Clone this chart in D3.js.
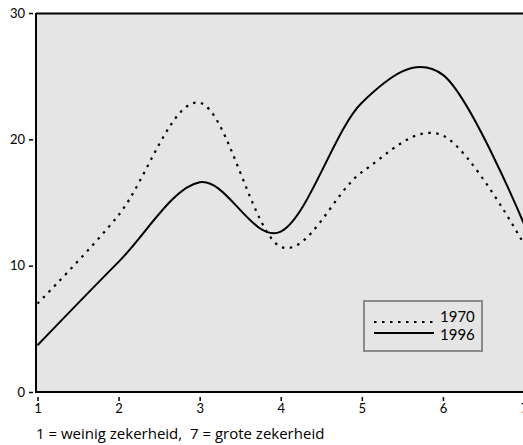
<!DOCTYPE html>
<html>
<head>
<meta charset="utf-8">
<script src="https://cdn.jsdelivr.net/npm/d3@7"></script>
<style>
  html, body { margin: 0; padding: 0; background: #fff; }
  svg { display: block; }
  text { font-family: Lato, "Open Sans", sans-serif; fill: #000; }
</style>
</head>
<body>
<svg id="chart" width="523" height="445"></svg>
<script>
const xValues = [1, 2, 3, 4, 5, 6, 7];
const values1970 = [7.0, 14.0, 22.9, 11.5, 17.4, 20.3, 11.7];
const values1996 = [3.7, 10.3, 16.6, 12.7, 22.9, 25.1, 13.3];
const seriesNames = ["1970", "1996"];
const yTicks = [0, 10, 20, 30];
const xTicks = [1, 2, 3, 4, 5, 6, 7];
const xLabel = "1 = weinig zekerheid,  7 = grote zekerheid";

const svg = d3.select("#chart");
const plot = { left: 36, top: 13, right: 530, bottom: 392 };

const x = d3.scaleLinear().domain([1, 7]).range([37.5, 524]);
const y = d3.scaleLinear().domain([0, 30]).range([plot.bottom, plot.top]);

svg.append("defs").append("clipPath").attr("id", "clip")
  .append("rect")
  .attr("x", plot.left).attr("y", plot.top)
  .attr("width", plot.right - plot.left).attr("height", plot.bottom - plot.top);

// background
svg.append("rect")
  .attr("x", plot.left).attr("y", plot.top)
  .attr("width", plot.right - plot.left).attr("height", plot.bottom - plot.top)
  .attr("fill", "#e5e5e5");

// lines
const line = d3.line().x((d, i) => x(xValues[i])).y(d => y(d)).curve(d3.curveCardinal.tension(0));
const g = svg.append("g").attr("clip-path", "url(#clip)");
g.append("path").datum(values1970)
  .attr("d", line).attr("fill", "none").attr("stroke", "#000")
  .attr("stroke-width", 2.2).attr("stroke-dasharray", "2.5,5.5");
g.append("path").datum(values1996)
  .attr("d", line).attr("fill", "none").attr("stroke", "#000")
  .attr("stroke-width", 2);

// frame
svg.append("line").attr("x1", plot.left).attr("x2", plot.right)
  .attr("y1", plot.top + 0.5).attr("y2", plot.top + 0.5)
  .attr("stroke", "#000").attr("stroke-width", 1.8);
svg.append("line").attr("x1", plot.left).attr("x2", plot.left)
  .attr("y1", plot.top).attr("y2", plot.bottom + 1)
  .attr("stroke", "#000").attr("stroke-width", 2);
svg.append("line").attr("x1", plot.left - 1).attr("x2", plot.right)
  .attr("y1", plot.bottom).attr("y2", plot.bottom)
  .attr("stroke", "#000").attr("stroke-width", 2.2);

// y axis
const yAxis = svg.append("g").attr("transform", `translate(33,0)`)
  .call(d3.axisLeft(y).tickValues(yTicks).tickSize(4).tickPadding(4));
yAxis.select(".domain").remove();
yAxis.selectAll(".tick line").attr("stroke", "#000").attr("stroke-width", 1.5);
yAxis.selectAll(".tick text").style("font-size", "13px").attr("fill", "#000");

// x axis
const xAxis = svg.append("g").attr("transform", `translate(0,${plot.bottom + 5})`)
  .call(d3.axisBottom(x).tickValues(xTicks).tickFormat(d3.format("d")).tickSize(4).tickPadding(3));
xAxis.select(".domain").remove();
xAxis.selectAll(".tick line").attr("stroke", "#000").attr("stroke-width", 1.5);
xAxis.selectAll(".tick text").style("font-size", "13px").attr("fill", "#000");

svg.append("text").attr("x", 36).attr("y", 439)
  .style("font-family", "'Open Sans', sans-serif")
  .style("white-space", "pre")
  .style("font-size", "15px").text(xLabel);

// legend
const leg = svg.append("g");
leg.append("rect").attr("x", 364).attr("y", 301).attr("width", 118).attr("height", 50)
  .attr("fill", "#e5e5e5").attr("stroke", "#8a8a8a").attr("stroke-width", 2);
const legDash = ["2.5,5.5", null];
const legLineY = [322, 333];
const legTextY = [322, 340];
seriesNames.forEach((name, i) => {
  leg.append("line").attr("x1", 374).attr("x2", 434).attr("y1", legLineY[i]).attr("y2", legLineY[i])
    .attr("stroke", "#000").attr("stroke-width", 2)
    .attr("stroke-dasharray", legDash[i]);
  leg.append("text").attr("x", 440).attr("y", legTextY[i])
    .style("font-size", "15px").text(name);
});
</script>
</body>
</html>
